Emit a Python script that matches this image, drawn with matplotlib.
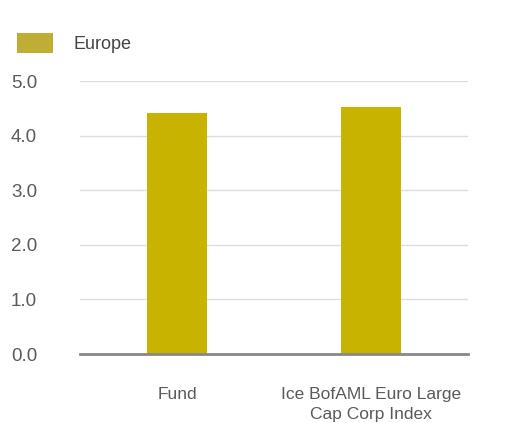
import matplotlib.pyplot as plt
from matplotlib.patches import Patch

categories = ['Fund', 'Ice BofAML Euro Large\nCap Corp Index']
values = [4.42, 4.52]
series_name = 'Europe'
yticks = [0.0, 1.0, 2.0, 3.0, 4.0, 5.0]

plt.rcParams['font.family'] = ['Liberation Sans', 'DejaVu Sans']

fig = plt.figure(figsize=(5.08, 4.23), dpi=100)
ax = fig.add_axes([80 / 508, 69 / 423, 388 / 508, 273 / 423])

x = list(range(len(categories)))
ax.bar(x, values, width=0.31, color='#C8B400', zorder=3)

ax.set_xlim(-0.5, 1.5)
ax.set_ylim(0, 5.0)
ax.set_yticks(yticks)
ax.set_yticklabels([f'{v:.1f}' for v in yticks], fontsize=13.5)
ax.set_xticks(x)
ax.set_xticklabels(categories, linespacing=1.35, fontsize=12.5)

ax.grid(axis='y', color='#dddddd', linewidth=1, zorder=0)
ax.axhline(0, color='#888888', linewidth=2, zorder=4, clip_on=False)
for s in ax.spines.values():
    s.set_visible(False)
ax.tick_params(axis='both', length=0, labelcolor='#5a5a5a')
ax.tick_params(axis='x', pad=24)
ax.yaxis.set_tick_params(pad=0)
for lbl in ax.get_yticklabels():
    lbl.set_horizontalalignment('left')
    lbl.set_x(-69 / 388)
    lbl.set_clip_on(False)

handle = Patch(facecolor='#BFAE33', edgecolor='none')
fig.legend([handle], [series_name], loc='upper left',
           bbox_to_anchor=(1 / 508, 1 - 17 / 423), frameon=False,
           fontsize=13, labelcolor='#444444',
           handlelength=2.0, handleheight=1.3, handletextpad=1.1)

fig.savefig('out.png', dpi=100)
